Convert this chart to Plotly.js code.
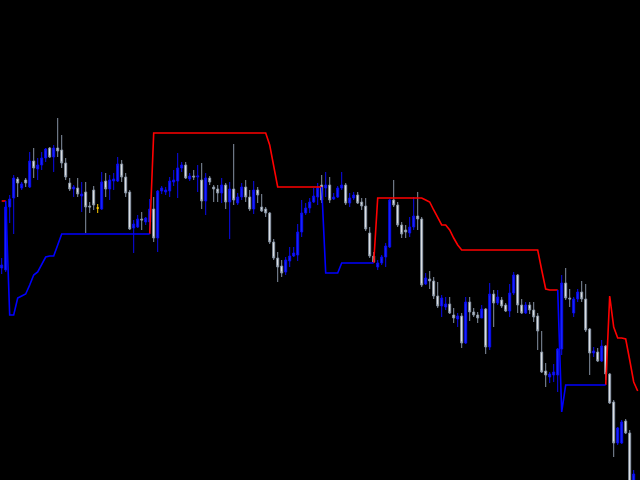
<!DOCTYPE html>
<html>
<head>
<meta charset="utf-8">
<script src="https://cdn.plot.ly/plotly-3.0.1.min.js"></script>
<style>
  html, body { margin: 0; padding: 0; background: #000; }
  #chart { width: 640px; height: 480px; }
</style>
</head>
<body>
<div id="chart"></div>
<script>
// prices in chart units, one entry per bar (oldest first)
let open = [
  212,210,273,282,301,292,300,293,319,311, 315,322,332,323,332,330,317,297,291,292,
  284,288,274,290,272,271,299,291,299,299, 316,303,288,252,253,261,258,258,271,242,
  289,288,289,298,299,312,315,301,304,303, 300,279,302,293,291,287,295,278,291,277,
  283,293,283,271,290,273,271,267,238,222, 214,208,219,224,225,248,267,272,278,283,
  295,292,295,281,283,292,295,277,282,285, 278,274,247,224,213,217,223,233,280,275,
  255,250,247,253,264,261,196,201,199,184, 174,173,176,165,161,164,137,178,168,165,
  162,171,133,186,177,180,175,169,187,205, 175,167,175,170,164,128,109,103,105,105,
  131,197,182,167,181,188,181,151,127,128, 119,134,106,78,37,37,59,47,-15
];
let high = [
  222,275,285,305,303,298,302,328,332,322, 328,332,333,335,362,345,322,302,295,302,
  298,298,278,294,276,308,307,305,307,323, 320,307,290,260,265,268,263,281,283,290,
  294,293,303,310,327,318,318,307,310,315, 317,307,304,295,295,302,297,298,336,287,
  297,300,290,299,293,286,273,268,241,228, 220,223,233,233,256,280,277,282,292,297,
  305,308,303,287,294,308,297,287,288,288, 282,282,253,228,220,225,237,281,300,278,
  258,255,263,283,288,263,207,209,203,198, 185,183,183,172,167,167,183,183,172,168,
  175,172,197,190,190,183,177,196,208,206, 181,178,178,178,167,149,117,108,116,132,
  205,212,191,183,191,199,196,152,133,132, 140,135,107,80,53,60,61,50,10
];
let low = [
  206,208,257,246,283,290,293,292,302,300, 310,318,322,308,323,312,300,289,283,283,
  268,247,267,270,267,270,283,280,290,298, 298,283,250,227,252,250,255,247,238,228,
  286,285,283,294,282,308,301,299,300,288, 271,265,295,278,278,277,271,241,275,275,
  280,278,269,266,277,268,263,236,220,198, 203,205,213,223,219,243,265,267,277,275,
  277,283,277,280,282,290,275,273,280,276, 270,249,222,217,210,215,213,232,273,253,
  242,242,243,250,250,193,195,191,181,172, 163,170,166,157,153,132,136,159,163,157,
  162,126,130,153,175,172,168,163,185,167, 166,166,166,158,130,107,93,97,98,88,
  125,180,173,163,178,178,148,105,123,118, 118,100,76,23,35,36,46,-15,-15
];
let close = [
  215,273,281,302,297,296,297,319,312,315, 322,331,323,332,329,317,303,291,293,286,
  286,273,273,275,272,298,291,300,301,316, 303,287,251,256,261,260,262,271,242,289,
  292,290,299,300,312,315,302,304,303,304, 279,302,298,291,287,295,278,291,280,283,
  293,283,271,290,285,269,267,238,222,213, 207,220,224,227,248,267,272,278,284,292,
  280,295,280,283,292,295,277,282,285,277, 274,251,224,218,217,223,234,280,275,255,
  246,248,253,264,261,195,202,199,184,174, 182,176,167,162,164,137,178,168,165,162,
  171,133,186,177,183,174,169,187,205,175, 167,175,170,163,149,108,105,106,108,131,
  197,182,181,181,188,181,150,127,129,119, 134,106,77,37,52,58,47,-10,6
];
let yellowBars = [24];

// trailing stop, red while above price, blue while below
let stopAbove = [
  279,279,null,null,null,null,null,null,null,null, null,null,null,null,null,null,null,null,null,null,
  null,null,null,null,null,null,null,null,null,null, null,null,null,null,null,null,null,246,347,347,
  347,347,347,347,347,347,347,347,347,347, 347,347,347,347,347,347,347,347,347,347,
  347,347,347,347,347,347,347,335,315,293, 293,293,293,293,293,293,293,293,293,293,
  293,null,null,null,null,null,null,null,null,null, null,null,null,217,282,282,282,282,282,282,
  282,282,282,282,282,282,280,278,270,262, 255,255,250,242,235,230,230,230,230,230,
  230,230,230,230,230,230,230,230,230,230, 230,230,230,230,230,210,191,190,190,190,
  null,null,null,null,null,null,null,null,null,null, null,95,184,153,142,142,141,120,98,89
];
let stopBelow = [
  null,279,165,165,182,184,186,195,205,208, 216,223,224,224,235,246,246,246,246,246,
  246,246,246,246,246,246,246,246,246,246, 246,246,246,246,246,246,246,246,null,null,
  null,null,null,null,null,null,null,null,null,null, null,null,null,null,null,null,null,null,null,null,
  null,null,null,null,null,null,null,null,null,null, null,null,null,null,null,null,null,null,null,null,
  293,207,207,207,207,217,217,217,217,217, 217,217,217,217,null,null,null,null,null,null,
  null,null,null,null,null,null,null,null,null,null, null,null,null,null,null,null,null,null,null,null,
  null,null,null,null,null,null,null,null,null,null, null,null,null,null,null,null,null,null,null,190,
  68,95,95,95,95,95,95,95,95,95, 95,95,null,null,null,null,null,null,null,null
];

let barIdx = open.map((v, i) => i);
let stopIdx = stopAbove.map((v, i) => i);
let normal = barIdx.filter(i => !yellowBars.includes(i));
let pick = (arr, idx) => idx.map(i => arr[i]);

let chart = document.getElementById("chart");
let traces = [
  {
    type: "candlestick",
    x: normal,
    open: pick(open, normal), high: pick(high, normal),
    low: pick(low, normal), close: pick(close, normal),
    increasing: { line: { color: "#0a0af0", width: 1 }, fillcolor: "#1a2cff" },
    decreasing: { line: { color: "#8592a3", width: 1 }, fillcolor: "#f4f4f4" },
    hoverinfo: "skip",
  },
  {
    type: "candlestick",
    x: yellowBars,
    open: pick(open, yellowBars), high: pick(high, yellowBars),
    low: pick(low, yellowBars), close: pick(close, yellowBars),
    increasing: { line: { color: "#ffcc00", width: 1 }, fillcolor: "#ffcc00" },
    decreasing: { line: { color: "#ffcc00", width: 1 }, fillcolor: "#ffcc00" },
    hoverinfo: "skip",
  },
  {
    x: stopIdx, y: stopAbove,
    mode: "lines",
    line: { color: "#ff0000", width: 1.6 },
    hoverinfo: "skip",
  },
  {
    x: stopIdx, y: stopBelow,
    mode: "lines",
    line: { color: "#0000ff", width: 1.6 },
    hoverinfo: "skip",
  },
];

let layout = {
  width: 640,
  height: 480,
  margin: { l: 0, r: 0, t: 0, b: 0 },
  paper_bgcolor: "#000",
  plot_bgcolor: "#000",
  showlegend: false,
  xaxis: { range: [-0.425, 159.575], visible: false, rangeslider: { visible: false }, fixedrange: true },
  yaxis: { range: [0, 480], visible: false, fixedrange: true },
};

Plotly.newPlot(chart, traces, layout, { displayModeBar: false, staticPlot: true });
</script>
</body>
</html>
